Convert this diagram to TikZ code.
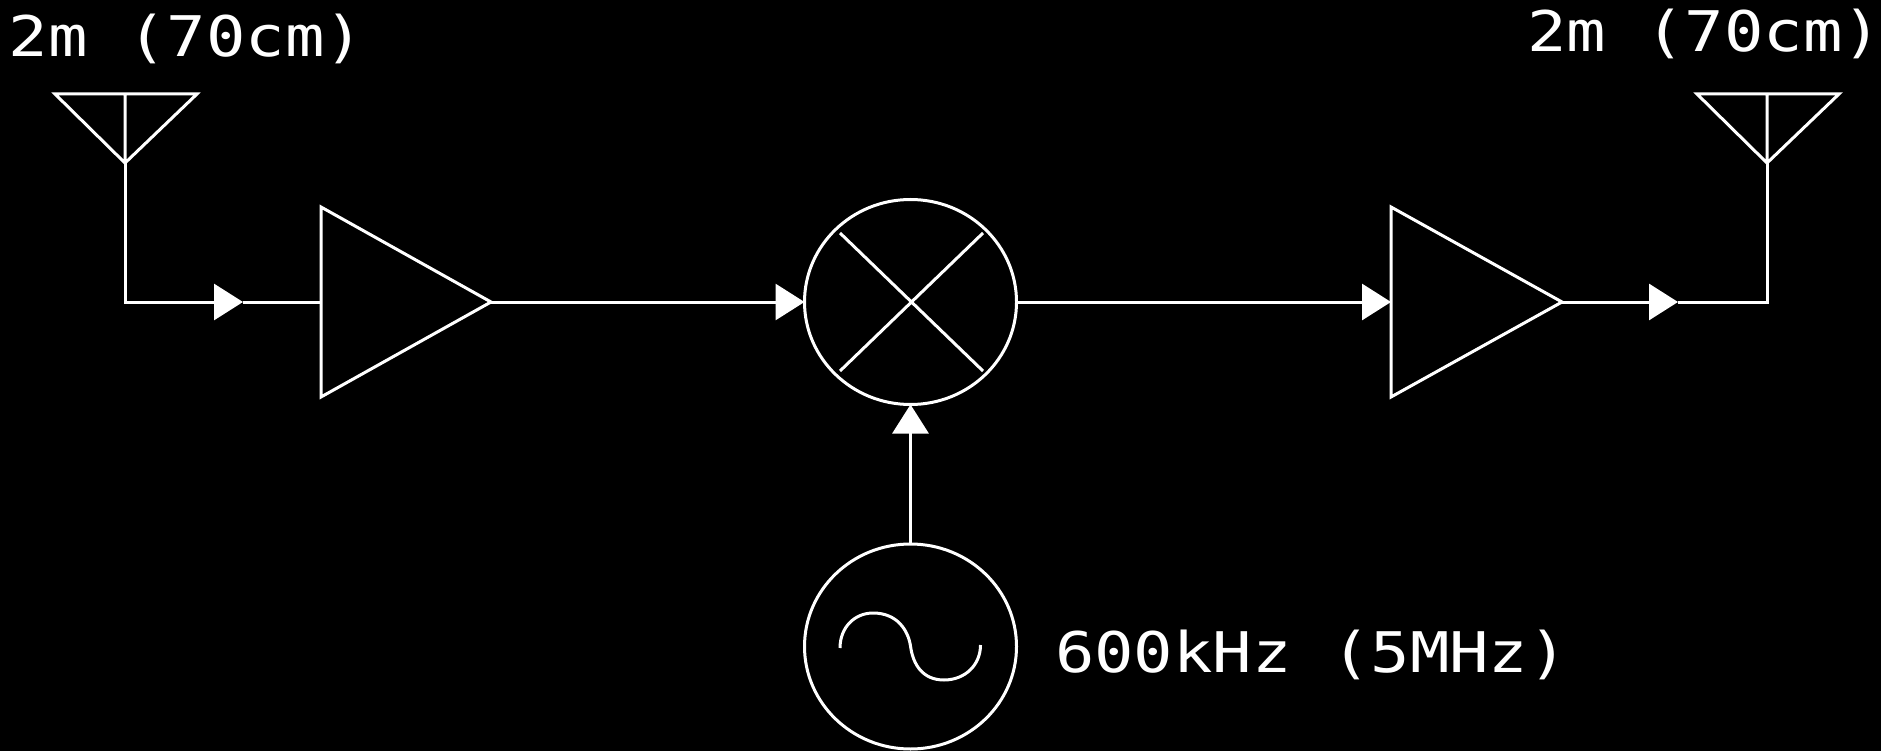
\documentclass[tikz,border=0pt]{standalone}
\usepackage{fontspec}
\newfontfamily\vecfont[FakeStretch=1.17]{DejaVu Sans Mono}
\usetikzlibrary{arrows.meta,shapes.geometric}
\tikzset{
  wire/.style={draw=white,line width=3pt,line join=miter,line cap=butt},
  flow/.style={wire,-{Triangle[length=29pt,width=36pt,fill=white]}},
  ring/.style={ellipse,draw=white,line width=3pt,minimum width=212pt,minimum height=205pt,inner sep=0pt,outer sep=0pt},
  lab/.style={text=white,anchor=base west,inner sep=0pt,outer sep=0pt,font=\vecfont\fontsize{56pt}{60pt}\selectfont}
}
\begin{document}
\begin{tikzpicture}[x=1pt,y=-1pt]
\fill[black] (0,0) rectangle (1881,751);
\useasboundingbox (0,0) rectangle (1881,751);
% named points
\coordinate (a1l) at (55,94); \coordinate (a1r) at (197,94); \coordinate (a1t) at (125,94); \coordinate (a1b) at (125,163);
\coordinate (a2l) at (1697,94); \coordinate (a2r) at (1839,94); \coordinate (a2t) at (1767,94); \coordinate (a2b) at (1767,163);
\coordinate (t1) at (243,302);
\coordinate (c1) at (125,302);
\coordinate (p1a) at (321,207); \coordinate (p1b) at (321,397); \coordinate (p1i) at (321,302); \coordinate (p1o) at (491,302);
\coordinate (p2a) at (1391,207); \coordinate (p2b) at (1391,397); \coordinate (p2i) at (1391,302); \coordinate (p2o) at (1562,302);
\coordinate (t2) at (1678,302);
\coordinate (c2) at (1767,302);
\node[ring] (mix) at (910.5,302) {};
\node[ring] (osc) at (910.5,646.5) {};
% antennas
\draw[wire] (a1l) -- (a1r) -- (a1b) -- cycle (a1t) -- (a1b);
\draw[wire] (a2l) -- (a2r) -- (a2b) -- cycle (a2t) -- (a2b);
% amplifiers
\draw[wire] (p1a) -- (p1o) -- (p1b) -- cycle;
\draw[wire] (p2a) -- (p2o) -- (p2b) -- cycle;
% mixer cross
\coordinate (x1) at (840,233); \coordinate (x2) at (983,371); \coordinate (x3) at (983,233); \coordinate (x4) at (840,371);
\draw[wire] (x1) -- (x2) (x3) -- (x4);
% oscillator sine
\coordinate (s0) at (840,648); \coordinate (s1) at (873,613); \coordinate (s2) at (910.5,646); \coordinate (s3) at (944,680); \coordinate (s4) at (980.5,645);
\draw[wire] (s0) .. controls (840,627) and (855,613) .. (s1) .. controls (897,613) and (908,630) .. (s2) .. controls (913,665) and (923,680) .. (s3) .. controls (965,680) and (980.5,665) .. (s4);
% connectors
\draw[flow] (a1b) -- (c1) -- (t1);
\draw[wire] (t1) -- (p1i);
\draw[flow] (p1o) -- (mix.west);
\draw[flow] (mix.east) -- (p2i);
\draw[flow] (p2o) -- (t2);
\draw[wire] (t2) -- (c2) -- (a2b);
\draw[flow] (osc.north) -- (mix.south);
% labels
\node[lab] (l1) at (9,57) {2m (70cm)};
\node[lab] (l2) at (1527,52) {2m (70cm)};
\node[lab] (l3) at (1055,672) {600kHz (5MHz)};
\end{tikzpicture}
\end{document}
